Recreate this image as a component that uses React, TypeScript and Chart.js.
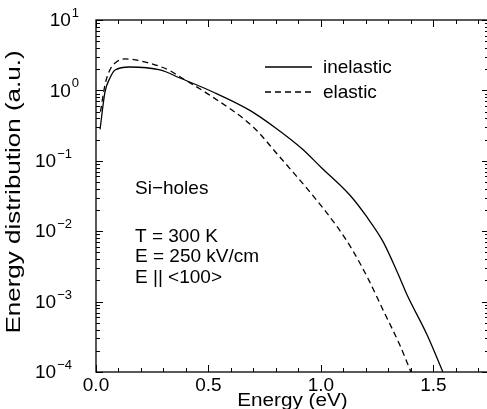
import React, { useEffect, useRef } from 'react';
import { Chart, registerables } from 'chart.js';
Chart.register(...registerables);

const inelasticEnergy = [0.018, 0.04, 0.062, 0.085, 0.15, 0.285, 0.373, 0.52, 0.684, 0.8, 0.916, 1.0, 1.129, 1.2, 1.276, 1.342, 1.382, 1.471, 1.542];
const inelasticValues = [0.28, 0.95, 1.5, 1.95, 2.15, 1.95, 1.5, 0.95, 0.52, 0.29, 0.148, 0.081, 0.0324, 0.0166, 0.0071, 0.0025, 0.00126, 3.4e-4, 1.0e-4];
const elasticEnergy = [0.02, 0.04, 0.06, 0.085, 0.13, 0.225, 0.33, 0.365, 0.52, 0.7, 0.81, 0.951, 1.071, 1.14, 1.21, 1.276, 1.351, 1.4];
const elasticValues = [0.5, 1.2, 1.9, 2.45, 2.8, 2.5, 1.9, 1.62, 0.8, 0.3, 0.12, 0.036, 0.0117, 0.0054, 0.0021, 7.6e-4, 2.4e-4, 1.0e-4];

const xTickValues = [0, 0.5, 1.0, 1.5];
const xTickLabels = ['0.0', '0.5', '1.0', '1.5'];
const yExponents = [-4, -3, -2, -1, 0, 1];
const seriesLabels = ['inelastic', 'elastic'];
const annotationLines = ['Si\u2212holes', '', 'T = 300 K', 'E = 250 kV/cm', 'E || <100>'];
const xTitle = 'Energy (eV)';
const yTitle = 'Energy distribution (a.u.)';

const FONT = '"Liberation Sans", Arial, sans-serif';

const framePlugin = {
  id: 'frame',
  afterDraw(chart: any) {
    const { ctx, chartArea: a, scales } = chart;
    const x = scales.x, y = scales.y;
    ctx.save();
    ctx.strokeStyle = '#000';
    ctx.lineWidth = 1.3;
    ctx.strokeRect(a.left, a.top, a.right - a.left, a.bottom - a.top);
    ctx.lineWidth = 1;
    ctx.beginPath();
    for (let i = 0; i <= 17; i++) {
      const v = i / 10;
      const px = Math.round(x.getPixelForValue(v)) + 0.5;
      const len = i % 5 === 0 ? 7 : 4;
      ctx.moveTo(px, a.bottom); ctx.lineTo(px, a.bottom - len);
      ctx.moveTo(px, a.top); ctx.lineTo(px, a.top + len);
    }
    for (const e of yExponents) {
      for (let m = 1; m <= 9; m++) {
        if (e === yExponents[yExponents.length - 1] && m > 1) break;
        const py = Math.round(y.getPixelForValue(m * Math.pow(10, e))) + 0.5;
        const len = m === 1 ? 7 : 4;
        ctx.moveTo(a.left, py); ctx.lineTo(a.left + len, py);
        ctx.moveTo(a.right, py); ctx.lineTo(a.right - len, py);
      }
    }
    ctx.stroke();

    ctx.fillStyle = '#000';
    // y tick labels with superscripts
    for (const e of yExponents) {
      const py = y.getPixelForValue(Math.pow(10, e));
      const R = e < 0 ? 72 : 79;
      const sup = e < 0 ? '\u2212' + Math.abs(e) : String(e);
      ctx.font = `13px ${FONT}`;
      const sw = ctx.measureText(sup).width;
      ctx.textAlign = 'left';
      ctx.textBaseline = 'alphabetic';
      ctx.fillText(sup, R - sw, py - 3);
      ctx.font = `19px ${FONT}`;
      ctx.textAlign = 'right';
      ctx.textBaseline = 'middle';
      ctx.fillText('10', R - sw - 1, py + 1);
    }

    // axis titles
    ctx.font = `18px ${FONT}`;
    ctx.textAlign = 'center';
    ctx.textBaseline = 'middle';
    ctx.save();
    ctx.translate((a.left + a.right) / 2, 401);
    ctx.scale(1.15, 1);
    ctx.fillText(xTitle, 0, 0);
    ctx.restore();
    ctx.save();
    ctx.font = `20px ${FONT}`;
    ctx.translate(14, (a.top + a.bottom) / 2 - 4);
    ctx.rotate(-Math.PI / 2);
    ctx.scale(1.3, 1);
    ctx.fillText(yTitle, 0, 0);
    ctx.restore();

    // legend
    ctx.font = `19px ${FONT}`;
    ctx.textAlign = 'left';
    ctx.textBaseline = 'middle';
    const ly = [67, 92];
    seriesLabels.forEach((lab, i) => {
      ctx.beginPath();
      ctx.lineWidth = 1.3;
      ctx.setLineDash(i === 0 ? [] : [6, 4]);
      ctx.moveTo(265, ly[i]); ctx.lineTo(312, ly[i]);
      ctx.stroke();
      ctx.setLineDash([]);
      ctx.fillText(lab, 323, ly[i] + 1);
    });

    // annotation
    let ay = 189;
    annotationLines.forEach((t) => {
      if (t) ctx.fillText(t, 135, ay);
      ay += t ? 20.5 : 27;
    });
    ctx.restore();
  },
};

export default function App() {
  const ref = useRef<HTMLCanvasElement>(null);
  useEffect(() => {
    document.body.style.margin = '0';
    const canvas = ref.current!;
    const chart = new Chart(canvas, {
      type: 'line',
      data: {
        datasets: [
          {
            label: seriesLabels[0],
            data: inelasticEnergy.map((e, i) => ({ x: e, y: inelasticValues[i] })),
            borderColor: '#000',
            borderWidth: 1.3,
            pointRadius: 0,
            cubicInterpolationMode: 'monotone',
            fill: false,
          },
          {
            label: seriesLabels[1],
            data: elasticEnergy.map((e, i) => ({ x: e, y: elasticValues[i] })),
            borderColor: '#000',
            borderWidth: 1.3,
            borderDash: [6, 4],
            pointRadius: 0,
            cubicInterpolationMode: 'monotone',
            fill: false,
          },
        ],
      },
      options: {
        animation: false,
        responsive: false,
        events: [],
        layout: { padding: { top: 20, right: 1, left: 0, bottom: 0 } },
        plugins: { legend: { display: false }, tooltip: { enabled: false } },
        scales: {
          x: {
            type: 'linear',
            min: 0,
            max: 1.747,
            grid: { display: false, drawTicks: false },
            border: { display: false },
            afterFit: (s: any) => { s.height = 37; },
            afterBuildTicks: (s: any) => { s.ticks = xTickValues.map((v) => ({ value: v })); },
            ticks: {
              font: { size: 19, family: FONT },
              color: '#000',
              padding: 2,
              maxRotation: 0,
              callback: (v: any) => { const i = xTickValues.indexOf(Number(v)); return i >= 0 ? xTickLabels[i] : ''; },
            },
            title: { display: false },
          },
          y: {
            type: 'logarithmic',
            min: 1e-4,
            max: 10,
            grid: { display: false },
            border: { display: false },
            ticks: { display: false },
            afterFit: (s: any) => { s.width = 96; },
            title: { display: false },
          },
        },
      },
      plugins: [framePlugin],
    } as any);
    return () => chart.destroy();
  }, []);
  return (
    <div style={{ width: 487, height: 409, overflow: 'hidden', background: '#fff' }}>
      <canvas ref={ref} width={490} height={409} style={{ display: 'block' }} />
    </div>
  );
}
